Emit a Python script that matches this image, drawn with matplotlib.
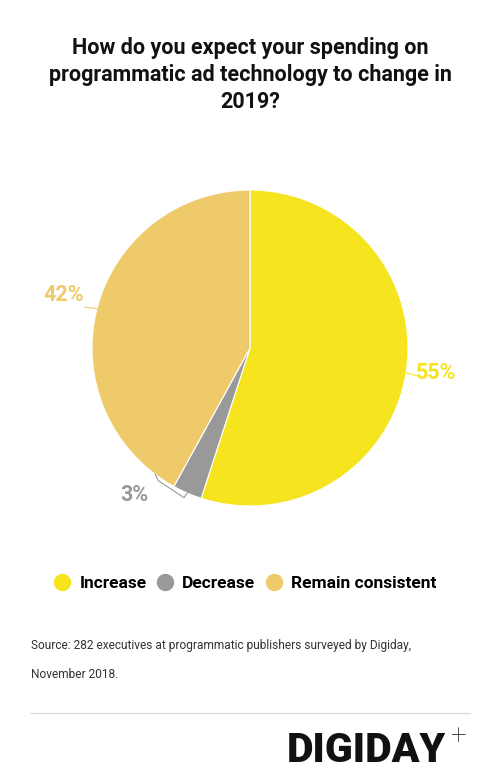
import numpy as np
import matplotlib
matplotlib.use("Agg")
import matplotlib.pyplot as plt
from matplotlib.lines import Line2D

# data
categories = ["Increase", "Decrease", "Remain consistent"]
shares = [55, 3, 42]
colors = ["#F6E41F", "#999999", "#EECA6B"]

title = "How do you expect your spending on\nprogrammatic ad technology to change in\n2019?"
source_lines = ["Source: 282 executives at programmatic publishers surveyed by Digiday,",
                "November 2018."]

plt.rcParams['font.family'] = ['Roboto', 'DejaVu Sans']

W, H = 500, 783
fig = plt.figure(figsize=(W / 100, H / 100), dpi=100)
fig.patch.set_facecolor("white")

def fx(x):
    return x / W

def fy(y):
    return 1 - y / H

# pie axes, center (250, 348), radius 158 px
cx, cy, r = 250, 348, 158
ax = fig.add_axes([fx(cx - r), fy(cy + r), 2 * r / W, 2 * r / H])
wedges, _ = ax.pie(shares, colors=colors, startangle=90, counterclock=False,
                   radius=1, wedgeprops=dict(edgecolor="white", linewidth=0.8))
ax.set_xlim(-1, 1)
ax.set_ylim(-1, 1)
ax.set_aspect("equal")
ax.axis("off")

# labels with leader lines
lab_r = [1.19, 0, 1.22]
for i, w in enumerate(wedges):
    mid = np.deg2rad((w.theta1 + w.theta2) / 2)
    c, s = np.cos(mid), np.sin(mid)
    txt = f"{shares[i]}%"
    if i == 1:
        # bracket style connector for small slice
        ex, ey = 1.0 * c, 1.0 * s
        ax.plot([ex, ex - 0.02, -0.58, -0.6], [ey, ey - 0.03, -0.84, -0.80],
                color=colors[i], lw=0.8, clip_on=False)
        ax.text(-0.64, -0.93, txt, color=colors[i], fontsize=15.5,
                fontweight="bold", ha="right", va="center")
    else:
        ex, ey = 1.0 * c, 1.0 * s
        tx, ty = 1.08 * c, 1.08 * s
        ax.plot([ex, tx], [ey, ty - 0.01], color=colors[i], lw=0.8, clip_on=False)
        ax.text(lab_r[i] * c, lab_r[i] * s + 0.03, txt, color=colors[i],
                fontsize=15.5, fontweight="bold", ha="center", va="center")

fig.text(0.5, fy(75), title, ha="center", va="center", fontsize=15.5,
         fontweight="bold", color="#111111", linespacing=1.3)

# legend
handles = [Line2D([0], [0], marker="o", linestyle="", markersize=11.5,
                  markerfacecolor=c, markeredgecolor=c) for c in colors]
fig.legend(handles, categories, loc="center", bbox_to_anchor=(fx(245), fy(583)),
           ncol=3, frameon=False, handlelength=1.0, handletextpad=0.5,
           columnspacing=0.55,
           prop=dict(family="Roboto", weight="bold", size=12.5))

# source
for k, line in enumerate(source_lines):
    fig.text(fx(31), fy(645 + 29 * k), line, ha="left", va="center",
             fontsize=8.55, color="#333333")

fig.add_artist(Line2D([fx(30), fx(470)], [fy(713), fy(713)], color="#dddddd", lw=1))

fig.text(fx(446), fy(750), "DIGIDAY", ha="right", va="center", fontsize=29.5,
         fontweight="black", color="#111111")
fig.text(fx(458), fy(737), "+", ha="center", va="center", fontsize=20,
         fontweight="light", color="#111111")

fig.savefig("out.png", dpi=100, facecolor="white")
